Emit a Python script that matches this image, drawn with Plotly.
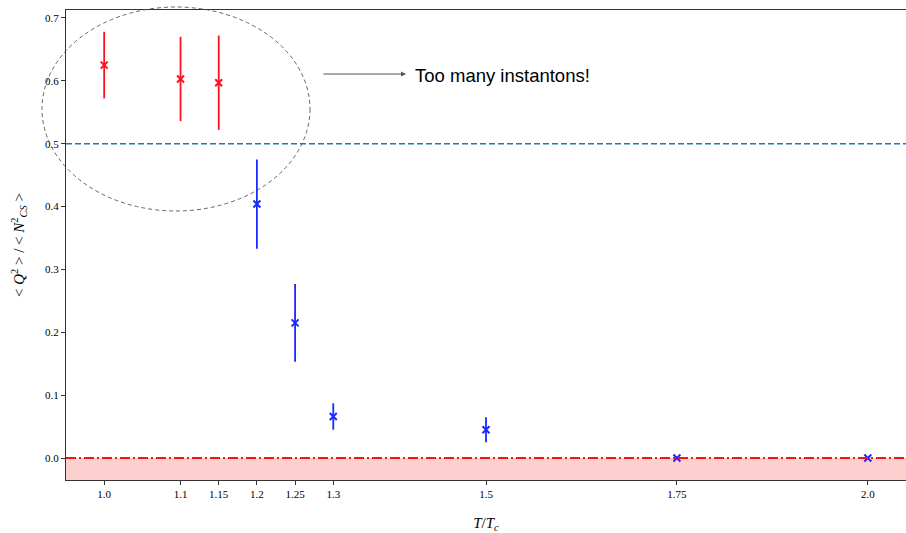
import plotly.graph_objects as go

# Data
t_red = [1.0, 1.1, 1.15]
q_red = [0.625, 0.603, 0.597]
e_red = [0.053, 0.067, 0.075]

t_blue = [1.2, 1.25, 1.3, 1.5, 1.75, 2.0]
q_blue = [0.404, 0.215, 0.066, 0.045, 0.0, 0.0]
e_blue = [0.071, 0.062, 0.021, 0.020, 0.0, 0.0]

tick_vals = [1.0, 1.1, 1.15, 1.2, 1.25, 1.3, 1.5, 1.75, 2.0]
tick_text = ["1.0", "1.1", "1.15", "1.2", "1.25", "1.3", "1.5", "1.75", "2.0"]
y_ticks = [0.0, 0.1, 0.2, 0.3, 0.4, 0.5, 0.6, 0.7]

XR = [0.95, 2.05]
YR = [-0.035, 0.7127]

fig = go.Figure()

# shaded region below zero
fig.add_shape(type="rect", xref="paper", yref="y", x0=0, x1=1, y0=YR[0], y1=0,
              fillcolor="rgba(250,150,150,0.45)", line_width=0, layer="below")

# horizontal lines
fig.add_shape(type="line", xref="paper", yref="y", x0=0, x1=1, y0=0.5, y1=0.5,
              line=dict(color="#1f77b4", width=1.6, dash="6px,3px"))
fig.add_shape(type="line", xref="paper", yref="y", x0=0, x1=1, y0=0, y1=0,
              line=dict(color="#ff1010", width=1.8, dash="10px,3px,2px,3px"))

fig.add_trace(go.Scatter(
    x=t_red, y=q_red, mode="markers",
    marker=dict(symbol="x-thin", size=7, line=dict(width=2, color="#ff1020"), color="#ff1020"),
    error_y=dict(type="data", array=e_red, visible=True, color="#ff1020", thickness=1.8, width=0),
    showlegend=False, cliponaxis=False))

fig.add_trace(go.Scatter(
    x=t_blue, y=q_blue, mode="markers",
    marker=dict(symbol="x-thin", size=7, line=dict(width=2, color="#1a2aff"), color="#1a2aff"),
    error_y=dict(type="data", array=e_blue, visible=True, color="#1a2aff", thickness=1.8, width=0),
    showlegend=False, cliponaxis=False))

# ellipse (paper coords, extends beyond the axes)
L, R, T, B = 66, 906, 10, 480
def px(v):
    return (v - L) / (R - L)
def py(v):
    return (B - v) / (B - T)

fig.add_shape(type="circle", xref="paper", yref="paper",
              x0=px(42), x1=px(310), y0=py(211), y1=py(7),
              line=dict(color="#555555", width=0.9, dash="4px,3px"))

fig.add_annotation(xref="paper", yref="paper", x=px(406), y=py(74),
                   ax=-84, ay=0, text="", showarrow=True,
                   arrowhead=2, arrowsize=1, arrowwidth=1, arrowcolor="#555555")
fig.add_annotation(xref="paper", yref="paper", x=px(413), y=py(75),
                   text="Too many instantons!", showarrow=False,
                   xanchor="left", yanchor="middle",
                   font=dict(family="Liberation Sans, Arial", size=18.5, color="black"))

fig.update_layout(
    width=906, height=533,
    margin=dict(l=L, r=906 - R, t=T, b=533 - B),
    plot_bgcolor="white", paper_bgcolor="white",
    font=dict(family="Liberation Serif, DejaVu Serif, serif", size=11, color="black"),
    xaxis=dict(range=XR, tickvals=tick_vals, ticktext=tick_text,
               showline=True, linecolor="#333333", linewidth=1.2, mirror=True,
               ticks="outside", ticklen=4, tickcolor="#333333", showgrid=False, zeroline=False,
               title=dict(text="<i>T</i>/<i>T</i><sub><i>c</i></sub>", font=dict(size=15), standoff=22)),
    yaxis=dict(range=YR, tickvals=y_ticks, tickformat=".1f",
               showline=True, linecolor="#333333", linewidth=1.2,
               ticks="outside", ticklen=4, tickcolor="#333333", showgrid=False, zeroline=False,
               title=dict(text="&lt; <i>Q</i><sup>2</sup> &gt; / &lt; <i>N</i><sup>2</sup><sub><i>CS</i></sub> &gt;",
                          font=dict(size=15), standoff=16)),
)

fig.write_html("out.html")
